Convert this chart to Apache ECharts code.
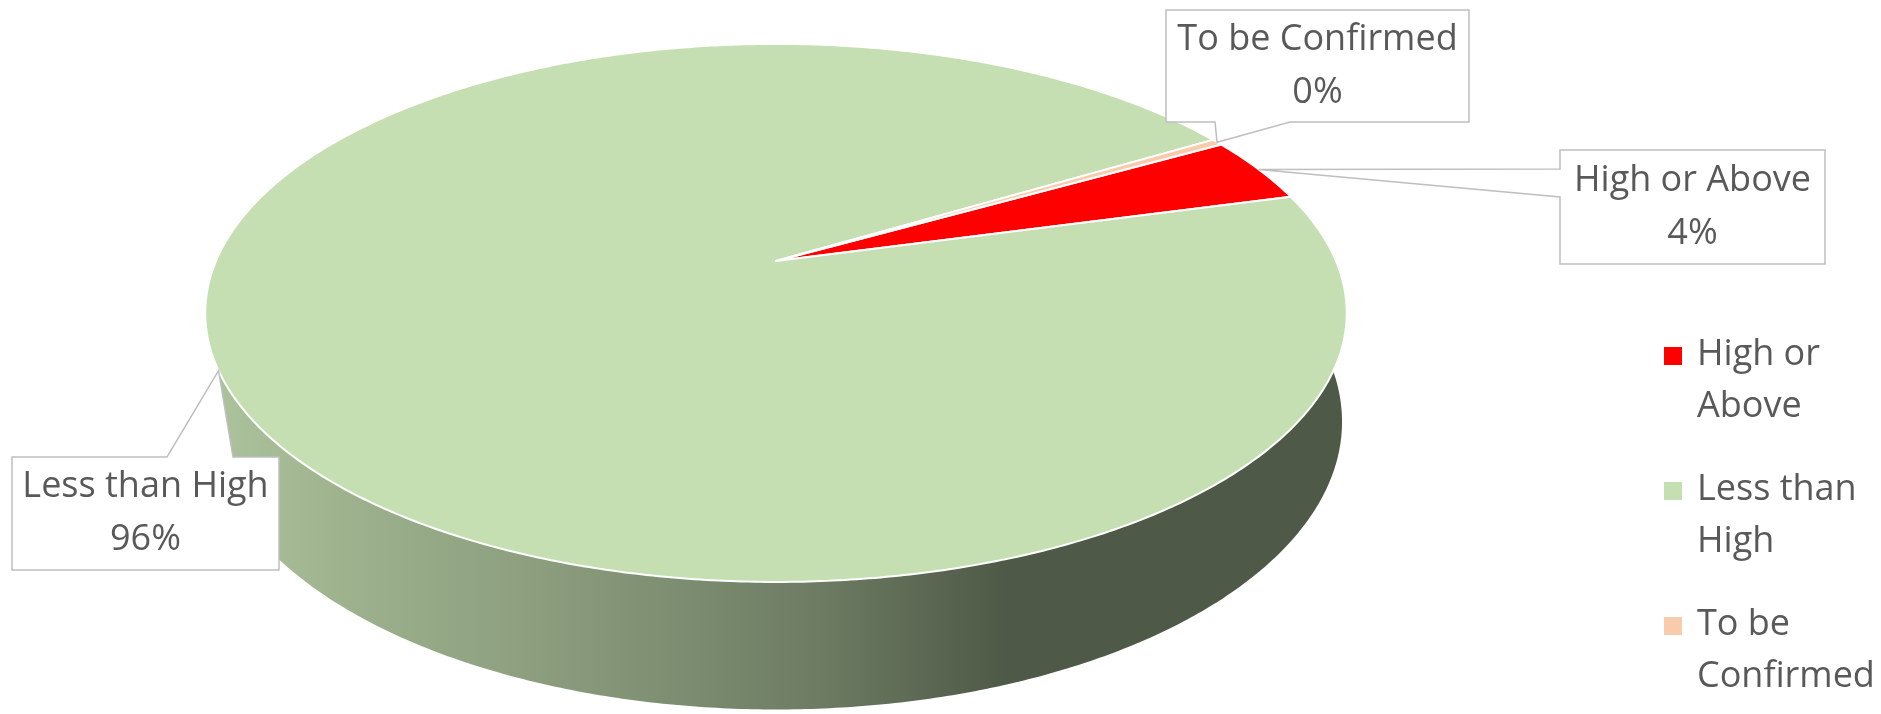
<!DOCTYPE html>
<html><head><meta charset="utf-8">
<script src="https://cdn.jsdelivr.net/npm/echarts@6/dist/echarts.min.js"></script>
<style>html,body{margin:0;padding:0;background:#fff}#chart{width:1881px;height:714px}</style>
</head><body><div id="chart"></div>
<script>
// ---- data ----
const categories = ['High or Above', 'Less than High', 'To be Confirmed'];
const values = [4.0, 95.6, 0.4];
const legendLabels = ['High or\nAbove', 'Less than\nHigh', 'To be\nConfirmed'];
const colors = ['#FF0000', '#C5DFB2', '#F8CBAD'];

// ---- 3D pie geometry (perspective projection of a disc) ----
const G = {cx: 776, cy: 261, R: 560, s: 259, k: 0.193, m: 0.008, hD: 106.5, startDeg: 29.5};
const FRONT = [-185, 5];
const SHADE = [[0, 0.88], [0.12, 0.8], [0.34, 0.68], [0.54, 0.55], [0.70, 0.40], [1, 0.40]];
const TEXT = '#595959', FONT = 'Open Sans';

const callouts = {
  'High or Above':   {x: 1560, y: 150, w: 265, h: 114, edge: 'left',   base: [19, 47]},
  'Less than High':  {x: 12,   y: 457, w: 267, h: 113, edge: 'top',    base: [155, 221]},
  'To be Confirmed': {x: 1166, y: 10,  w: 303, h: 112, edge: 'bottom', base: [49, 124]}
};

function proj(tDeg, D) {
  const t = tDeg * Math.PI / 180, S = Math.sin(t), C = Math.cos(t);
  const w = 1 + G.k * S + G.m * D;
  return [G.cx + G.R * C / w, G.cy + (-G.s * S + G.hD * D) / w];
}
function arc(from, to, D) {
  const pts = [], n = Math.max(2, Math.ceil(Math.abs(to - from) / 0.5));
  for (let j = 0; j <= n; j++) pts.push(proj(from + (to - from) * j / n, D));
  return pts;
}
const total = values.reduce((a, b) => a + b, 0);
function sliceAngles(i) {
  let before = 0;
  for (let j = 0; j < i; j++) before += values[j];
  const a = G.startDeg - 360 * before / total;
  const b = a - 360 * values[i] / total;
  return [a, b];
}
function shadeColor(hex, f) {
  const n = parseInt(hex.slice(1), 16);
  const r = Math.round(((n >> 16) & 255) * f), g = Math.round(((n >> 8) & 255) * f), b = Math.round((n & 255) * f);
  return 'rgb(' + r + ',' + g + ',' + b + ')';
}
function sideFill(color) {
  const left = proj(180 + Math.asin(G.k) * 180 / Math.PI, 0)[0];
  const right = proj(-Math.asin(G.k) * 180 / Math.PI, 0)[0];
  return {type: 'linear', x: left, y: 0, x2: right, y2: 0, global: true,
    colorStops: SHADE.map(([o, f]) => ({offset: o, color: shadeColor(color, f)}))};
}
function calloutPoints(L, tip) {
  const {x, y, w, h, base} = L;
  if (L.edge === 'top') return [[x, y], [x + base[0], y], tip, [x + base[1], y], [x + w, y], [x + w, y + h], [x, y + h]];
  if (L.edge === 'bottom') return [[x, y], [x + w, y], [x + w, y + h], [x + base[1], y + h], tip, [x + base[0], y + h], [x, y + h]];
  return [[x, y], [x + w, y], [x + w, y + h], [x, y + h], [x, y + base[1]], tip, [x, y + base[0]]];
}

function makeRender(i) {
  return function (params, api) {
    const [a, b] = sliceAngles(i);
    const children = [];
    // side walls facing the viewer
    for (let n = -2; n <= 2; n++) {
      const lo = Math.max(b, FRONT[0] + 360 * n), hi = Math.min(a, FRONT[1] + 360 * n);
      if (lo < hi) {
        children.push({type: 'polygon', z2: 1,
          shape: {points: arc(lo, hi, 0).concat(arc(hi, lo, 1))},
          style: {fill: sideFill(colors[i])}});
      }
    }
    // top face
    children.push({type: 'polygon', z2: 10,
      shape: {points: [[G.cx, G.cy]].concat(arc(a, b, 0))},
      style: {fill: colors[i], stroke: '#ffffff', lineWidth: 2, lineJoin: 'round'}});
    // callout label
    const L = callouts[categories[i]];
    if (L) {
      const tip = proj((a + b) / 2, 0);
      children.push({type: 'polygon', z2: 20,
        shape: {points: calloutPoints(L, tip)},
        style: {fill: '#ffffff', stroke: '#BFBFBF', lineWidth: 1.5}});
      children.push({type: 'text', z2: 21, x: L.x + L.w / 2, y: L.y + L.h / 2,
        style: {text: categories[i] + '\n' + Math.round(values[i] / total * 100) + '%',
          fill: TEXT, fontFamily: FONT, fontSize: 36, lineHeight: 53,
          align: 'center', verticalAlign: 'middle'}});
    }
    return {type: 'group', children};
  };
}

const chart = echarts.init(document.getElementById('chart'), null, {renderer: 'canvas'});
chart.setOption({
  animation: false,
  backgroundColor: '#ffffff',
  legend: {
    orient: 'vertical', left: 1664, top: 329, padding: 0, itemGap: 31,
    itemWidth: 18, itemHeight: 104, selectedMode: false,
    icon: 'path://M0,0L0.01,0L0.01,0.01Z M0,104L0.01,104L0.01,103.99Z M0,18L18,18L18,36L0,36Z',
    data: categories,
    formatter: n => legendLabels[categories.indexOf(n)],
    itemStyle: {borderWidth: 0},
    textStyle: {fontFamily: FONT, fontSize: 36, lineHeight: 52, color: TEXT, padding: [0, 0, 0, 10]}
  },
  series: categories.map((name, i) => ({
    type: 'custom', name: name, coordinateSystem: 'none',
    itemStyle: {color: colors[i]},
    data: [values[i]],
    renderItem: makeRender(i)
  }))
});
</script></body></html>
